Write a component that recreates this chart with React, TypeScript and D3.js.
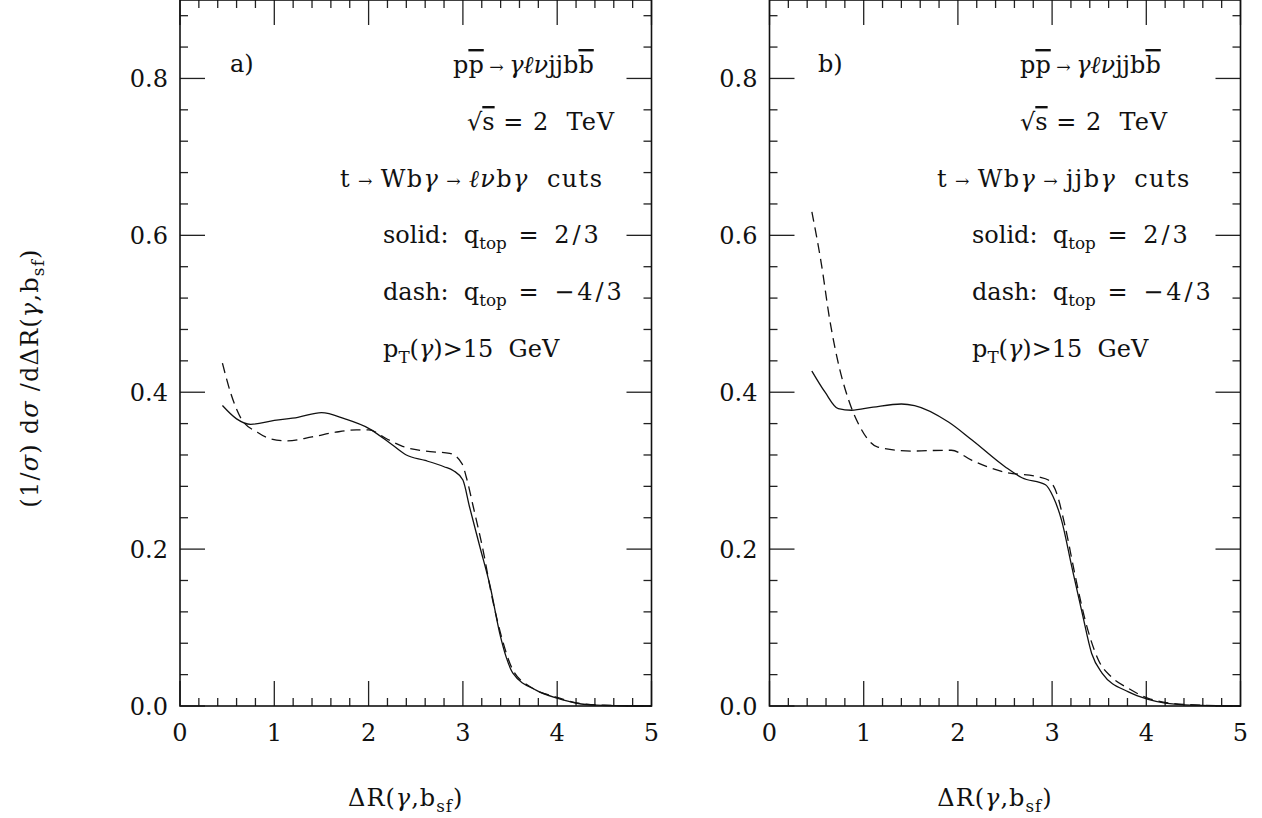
import React from "react";
import * as d3 from "d3";

// ---------- data ----------
const xTickLabels = ["0", "1", "2", "3", "4", "5"];
const yTickLabels = ["0.0", "0.2", "0.4", "0.6", "0.8"];

const aSolidX = [0.45, 0.6, 0.75, 1.0, 1.25, 1.5, 1.75, 2.0, 2.25, 2.4, 2.6, 2.8, 2.9, 3.0, 3.07, 3.18, 3.29, 3.39, 3.46, 3.53, 3.78, 4.0, 4.21, 4.42, 4.7, 5.0];
const aSolidY = [0.383, 0.366, 0.359, 0.364, 0.368, 0.374, 0.366, 0.354, 0.333, 0.32, 0.313, 0.305, 0.3, 0.288, 0.254, 0.203, 0.152, 0.093, 0.062, 0.042, 0.02, 0.01, 0.0035, 0.001, 0.0002, 0.0];
const aDashX = [0.45, 0.54, 0.65, 0.82, 0.95, 1.13, 1.4, 1.65, 1.87, 2.0, 2.2, 2.36, 2.6, 2.86, 2.99, 3.04, 3.11, 3.22, 3.3, 3.41, 3.53, 3.75, 4.0, 4.2, 4.5, 5.0];
const aDashY = [0.437, 0.398, 0.366, 0.349, 0.341, 0.338, 0.343, 0.349, 0.352, 0.352, 0.34, 0.331, 0.325, 0.322, 0.309, 0.29, 0.254, 0.195, 0.144, 0.088, 0.046, 0.022, 0.011, 0.004, 0.001, 0.0];

const bSolidX = [0.45, 0.59, 0.73, 0.87, 1.1, 1.4, 1.54, 1.9, 2.15, 2.5, 2.68, 2.93, 3.01, 3.1, 3.21, 3.32, 3.42, 3.53, 3.81, 4.02, 4.41, 5.0];
const bSolidY = [0.427, 0.4, 0.379, 0.377, 0.381, 0.385, 0.383, 0.362, 0.339, 0.305, 0.291, 0.282, 0.267, 0.237, 0.177, 0.118, 0.067, 0.042, 0.018, 0.0085, 0.0015, 0.0];
const bDashX = [0.45, 0.55, 0.64, 0.74, 0.84, 0.96, 1.15, 1.51, 1.86, 1.93, 2.15, 2.5, 2.86, 2.96, 3.03, 3.14, 3.24, 3.35, 3.49, 3.63, 3.81, 4.02, 4.4, 5.0];
const bDashY = [0.63, 0.564, 0.492, 0.432, 0.39, 0.356, 0.33, 0.325, 0.326, 0.326, 0.313, 0.298, 0.292, 0.288, 0.277, 0.228, 0.169, 0.11, 0.059, 0.037, 0.0225, 0.0098, 0.002, 0.0];

// ---------- layout ----------
const W = 1262;
const H = 818;
const FONT = "'DejaVu Serif', serif";
const FS = 24;

type Seg = { t: string; it?: boolean; sub?: boolean; over?: boolean; small?: boolean; ls?: number };

function Rich({ x, y, segs, anchor = "start", fs = FS, transform, ls = 0 }: { x: number; y: number; segs: Seg[]; anchor?: string; fs?: number; transform?: string; ls?: number }) {
  let cur = 0;
  const subShift = fs * 0.27;
  return (
    <text x={x} y={y} fontFamily={FONT} fontSize={fs} fill="#111" textAnchor={anchor} transform={transform} style={{ whiteSpace: "pre" }} letterSpacing={ls}>
      {segs.map((s, i) => {
        const target = s.sub ? subShift : 0;
        const dy = target - cur;
        cur = target;
        const size = s.sub ? fs * 0.7 : s.small ? fs * 0.72 : fs;
        return (
          <tspan
            key={i}
            dy={dy !== 0 ? dy : undefined}
            fontSize={size}
            fontStyle={s.it ? "italic" : undefined}
            letterSpacing={s.ls !== undefined ? s.ls : undefined}
            style={s.over ? { textDecoration: "overline" } : undefined}
          >
            {s.t}
          </tspan>
        );
      })}
    </text>
  );
}

const yScale = d3.scaleLinear().domain([0, 0.9]).range([706, 0]);

function Panel({ x0, x1, solidX, solidY, dashX, dashY, label, decay, textX }: any) {
  const xScale = d3.scaleLinear().domain([0, 5]).range([x0, x1]);
  const line = d3
    .line<[number, number]>()
    .x((d) => xScale(d[0]))
    .y((d) => yScale(d[1]))
    .curve(d3.curveMonotoneX);
  const solidPts: [number, number][] = solidX.map((v: number, i: number) => [v, solidY[i]]);
  const dashPts: [number, number][] = dashX.map((v: number, i: number) => [v, dashY[i]]);
  const yTop = yScale(0.9);
  const yBot = yScale(0);

  const xMajor = d3.range(0, 6);
  const xMinor = d3.range(0, 25).map((i) => i * 0.2).filter((v) => Math.abs(v - Math.round(v)) > 1e-6);
  const yMajor = [0, 0.2, 0.4, 0.6, 0.8];
  const yMinor = d3.range(1, 23).map((i) => i * 0.04).filter((v) => Math.abs(v / 0.2 - Math.round(v / 0.2)) > 1e-6);

  const MJ = 25;
  const MN = 8;
  const tick = { stroke: "#222", strokeWidth: 1.3 };

  return (
    <g>
      {xMajor.map((v) => (
        <g key={"xm" + v}>
          <line x1={xScale(v)} x2={xScale(v)} y1={yBot} y2={yBot - MJ} {...tick} />
          <line x1={xScale(v)} x2={xScale(v)} y1={yTop} y2={yTop + MJ} {...tick} />
          <text x={xScale(v)} y={741} textAnchor="middle" fontFamily={FONT} fontSize={FS} fill="#111">
            {xTickLabels[v]}
          </text>
        </g>
      ))}
      {xMinor.map((v) => (
        <g key={"xn" + v}>
          <line x1={xScale(v)} x2={xScale(v)} y1={yBot} y2={yBot - MN} {...tick} />
          <line x1={xScale(v)} x2={xScale(v)} y1={yTop} y2={yTop + MN} {...tick} />
        </g>
      ))}
      {yMajor.map((v, i) => (
        <g key={"ym" + v}>
          <line x1={x0} x2={x0 + MJ} y1={yScale(v)} y2={yScale(v)} {...tick} />
          <line x1={x1} x2={x1 - MJ} y1={yScale(v)} y2={yScale(v)} {...tick} />
          <text x={x0 - 12} y={yScale(v) + 8.5} textAnchor="end" fontFamily={FONT} fontSize={FS} fill="#111">
            {yTickLabels[i]}
          </text>
        </g>
      ))}
      {yMinor.map((v) => (
        <g key={"yn" + v}>
          <line x1={x0} x2={x0 + MN} y1={yScale(v)} y2={yScale(v)} {...tick} />
          <line x1={x1} x2={x1 - MN} y1={yScale(v)} y2={yScale(v)} {...tick} />
        </g>
      ))}
      <rect x={x0} y={yTop} width={x1 - x0} height={yBot - yTop} fill="none" stroke="#111" strokeWidth={1.6} />
      <path d={line(solidPts) || ""} fill="none" stroke="#111" strokeWidth={1.3} />
      <path d={line(dashPts) || ""} fill="none" stroke="#111" strokeWidth={1.3} strokeDasharray="10,6" />

      <Rich x={textX.lab} y={72} segs={[{ t: label }]} />
      <Rich
        x={textX.proc}
        y={73}
        segs={[{ t: "p" }, { t: "p", over: true }, { t: " → ", small: true }, { t: "γℓν", it: true }, { t: "jjb" }, { t: "b", over: true }]}
      />
      <Rich x={textX.sqrt} y={130} segs={[{ t: "√" }, { t: "s", over: true }, { t: " = 2  TeV", ls: 1 }]} />
      <Rich
        x={textX.cuts}
        y={187}
        ls={1.4}
        segs={[{ t: "t" }, { t: " → ", small: true }, { t: "Wb" }, { t: "γ", it: true }, { t: " → ", small: true }, ...decay, { t: "b" }, { t: "γ", it: true }, { t: "  cuts" }]}
      />
      <Rich x={textX.leg} y={243} segs={[{ t: "solid:  q" }, { t: "top", sub: true }, { t: " = ", ls: 4 }, { t: "2/3", ls: 3 }]} />
      <Rich x={textX.leg} y={300} segs={[{ t: "dash:  q" }, { t: "top", sub: true }, { t: " = ", ls: 4 }, { t: "−4/3", ls: 3 }]} />
      <Rich x={textX.leg} y={357} segs={[{ t: "p" }, { t: "T", sub: true }, { t: "(" }, { t: "γ", it: true }, { t: ")>15  GeV" }]} />

      <Rich
        x={(x0 + x1) / 2 - 10}
        y={806}
        anchor="middle"
        ls={1}
        segs={[{ t: "ΔR(" }, { t: "γ", it: true }, { t: ",b" }, { t: "sf", sub: true }, { t: ")" }]}
      />
    </g>
  );
}

export default function App() {
  return (
    <svg width={W} height={H} style={{ position: "absolute", left: 0, top: 0, background: "#fff" }}>
      <rect x={0} y={0} width={W} height={H} fill="#fff" />
      <Panel
        x0={180}
        x1={651.5}
        solidX={aSolidX}
        solidY={aSolidY}
        dashX={aDashX}
        dashY={aDashY}
        label="a)"
        decay={[{ t: "ℓν", it: true }]}
        textX={{ lab: 230, proc: 453, sqrt: 467, cuts: 340, leg: 383 }}
      />
      <Panel
        x0={769.5}
        x1={1240.5}
        solidX={bSolidX}
        solidY={bSolidY}
        dashX={bDashX}
        dashY={bDashY}
        label="b)"
        decay={[{ t: "jj" }]}
        textX={{ lab: 818, proc: 1020, sqrt: 1020, cuts: 937, leg: 972 }}
      />
      <Rich
        x={38}
        y={378}
        anchor="middle"
        ls={1.2}
        transform="rotate(-90 38 378)"
        segs={[{ t: "(1/" }, { t: "σ", it: true }, { t: ") d" }, { t: "σ", it: true }, { t: " /dΔR(" }, { t: "γ", it: true }, { t: ",b" }, { t: "sf", sub: true }, { t: ")" }]}
      />
    </svg>
  );
}
